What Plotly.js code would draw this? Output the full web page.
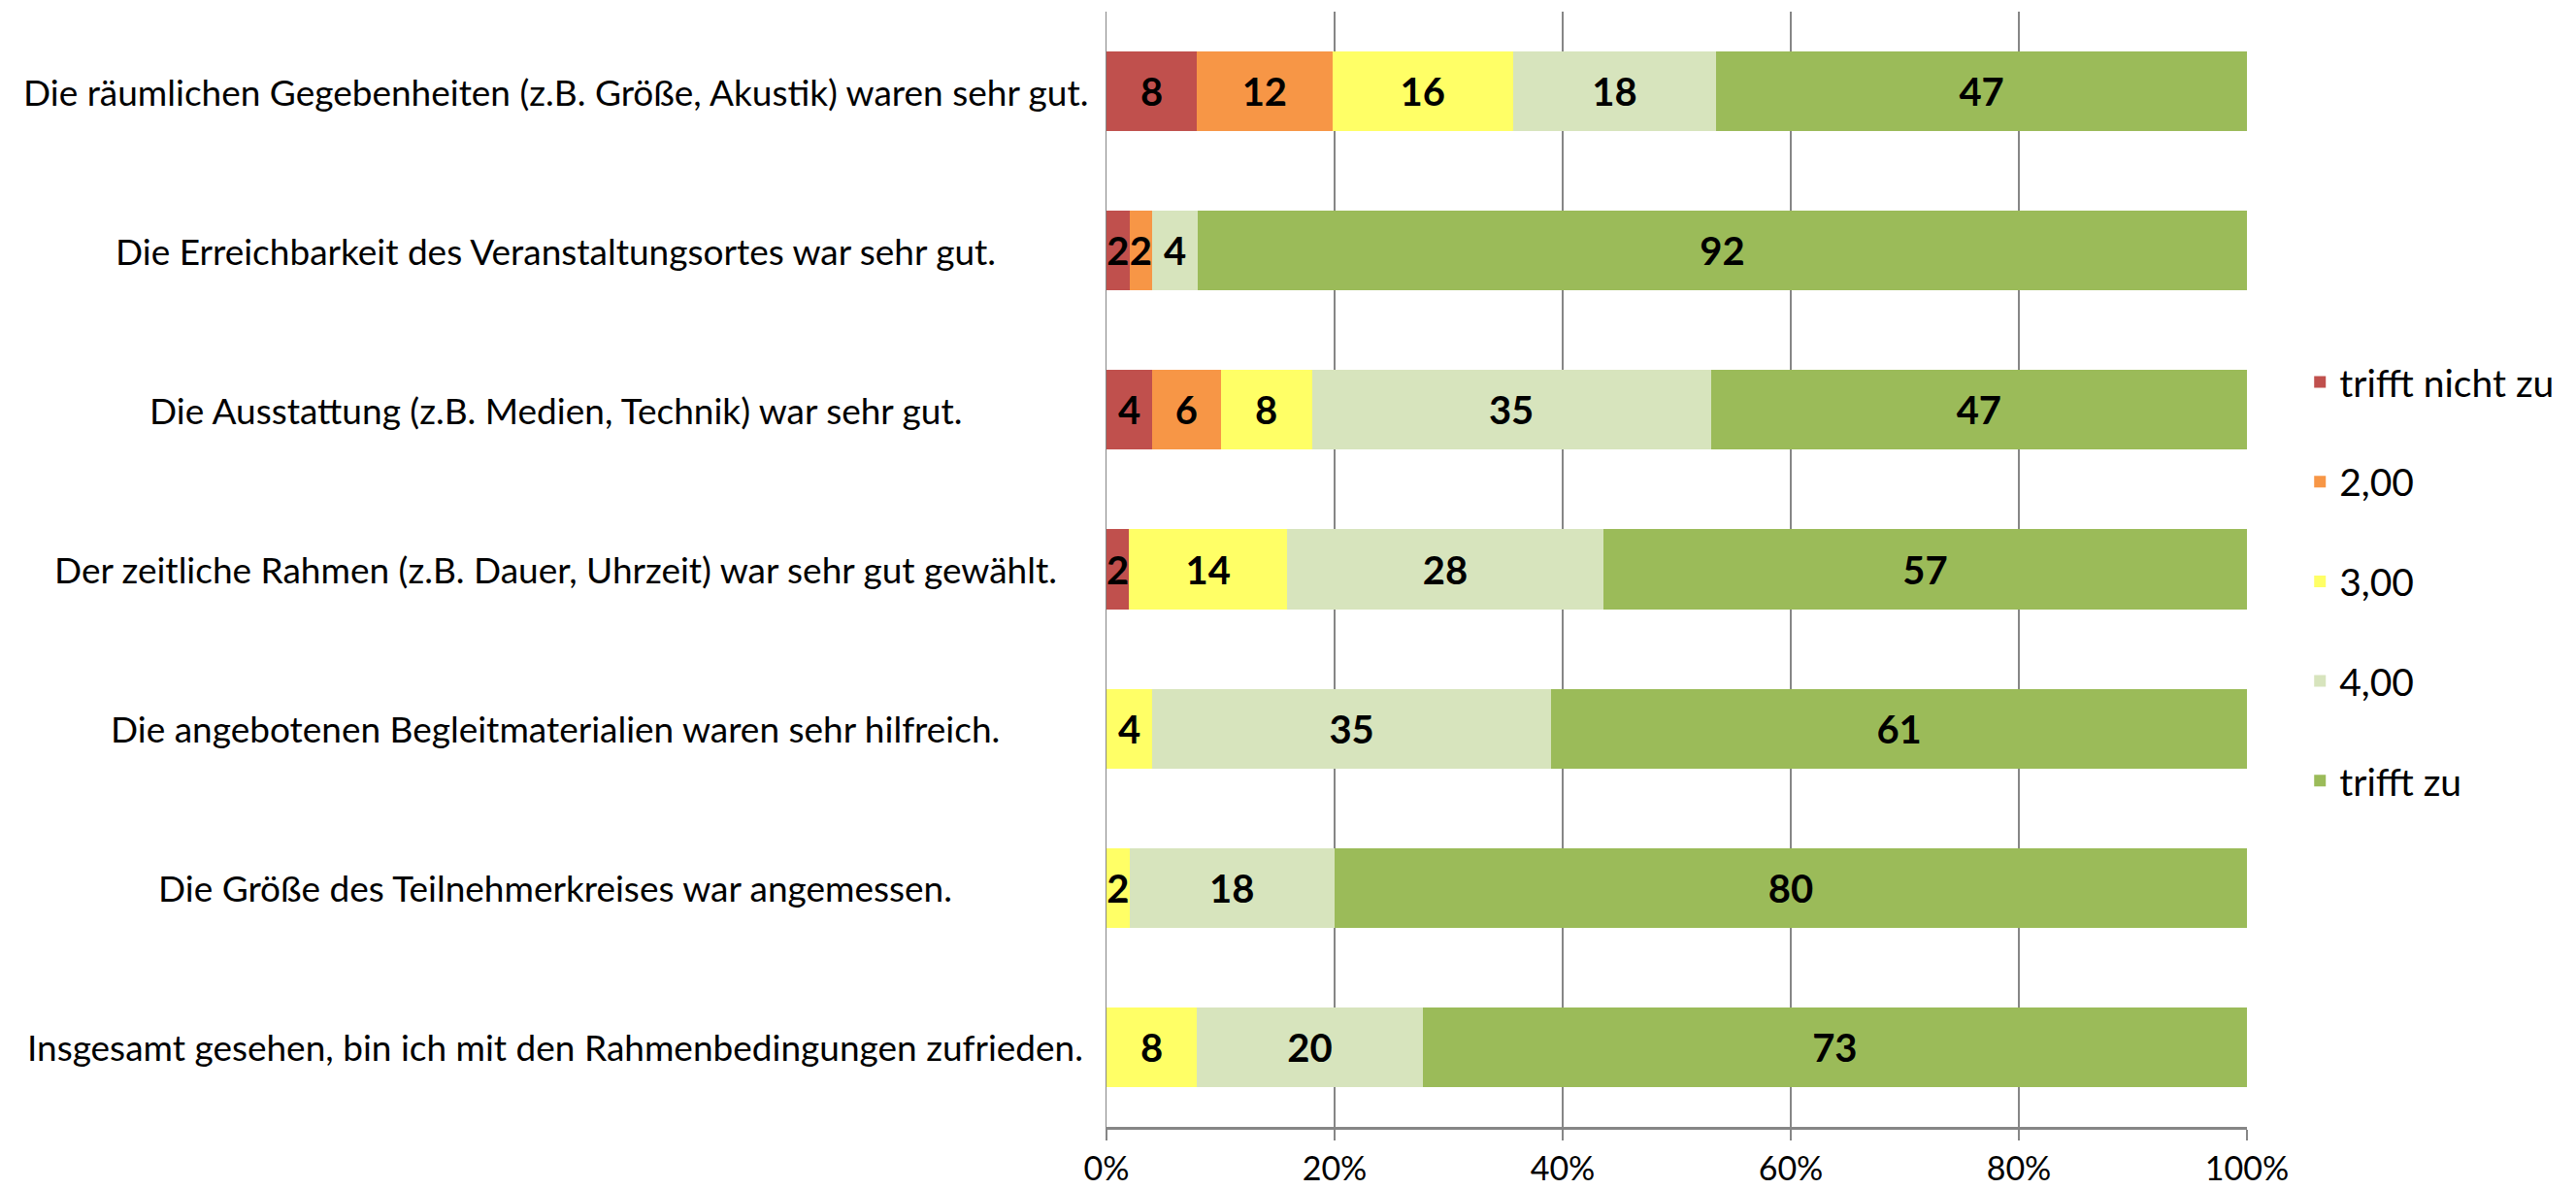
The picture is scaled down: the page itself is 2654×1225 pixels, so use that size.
<!DOCTYPE html>
<html>
<head>
<meta charset="utf-8">
<script src="https://cdn.plot.ly/plotly-3.0.1.min.js"></script>
<style>html,body{margin:0;padding:0;background:#fff;}#chart{width:2654px;height:1225px;}</style>
</head>
<body>
<div id="chart"></div>
<script>
const categories = [
  "Die räumlichen Gegebenheiten (z.B. Größe, Akustik) waren sehr gut.",
  "Die Erreichbarkeit des Veranstaltungsortes war sehr gut.",
  "Die Ausstattung (z.B. Medien, Technik) war sehr gut.",
  "Der zeitliche Rahmen (z.B. Dauer, Uhrzeit) war sehr gut gewählt.",
  "Die angebotenen Begleitmaterialien waren sehr hilfreich.",
  "Die Größe des Teilnehmerkreises war angemessen.",
  "Insgesamt gesehen, bin ich mit den Rahmenbedingungen zufrieden."
];
const seriesNames = ["trifft nicht zu", "2,00", "3,00", "4,00", "trifft zu"];
const trifftNichtZu = [8, 2, 4, 2, null, null, null];
const wert2 = [12, 2, 6, null, null, null, null];
const wert3 = [16, null, 8, 14, 4, 2, 8];
const wert4 = [18, 4, 35, 28, 35, 18, 20];
const trifftZu = [47, 92, 47, 57, 61, 80, 73];
const xTickVals = [0, 20, 40, 60, 80, 100];
const xTickText = ["0%", "20%", "40%", "60%", "80%", "100%"];

const colors = ["#C0504D", "#F79646", "#FFFF66", "#D7E4BD", "#9BBB59"];
const allSeries = [trifftNichtZu, wert2, wert3, wert4, trifftZu];
const FONT = "Lato, 'Open Sans', sans-serif";

const traces = allSeries.map((vals, i) => ({
  type: "bar",
  orientation: "h",
  name: seriesNames[i],
  legendgroup: "g" + i,
  y: categories,
  x: vals,
  marker: {color: colors[i], line: {width: 0}},
  text: vals.map(v => v == null ? "" : String(v)),
  texttemplate: "%{text}",
  textposition: "inside",
  insidetextanchor: "middle",
  constraintext: "none",
  textfont: {family: FONT, size: 40, color: "#000000", weight: "bold"},
  hoverinfo: "name+y+text"
}));

const annotations = categories.map(c => ({
  xref: "paper", yref: "y",
  x: -0.4834, y: c,
  xanchor: "center", yanchor: "middle",
  text: c, showarrow: false,
  font: {family: FONT, size: 37, color: "#000000"}
}));

const layout = {
  width: 2654, height: 1225,
  margin: {l: 1140, r: 339, t: 12, b: 64, pad: 0},
  paper_bgcolor: "#ffffff",
  plot_bgcolor: "#ffffff",
  barmode: "stack",
  barnorm: "percent",
  bargap: 0.5,
  showlegend: true,
  legend: {
    x: 1.047, xanchor: "left",
    y: 0.489, yanchor: "middle",
    traceorder: "grouped",
    tracegroupgap: 49,
    font: {family: FONT, size: 39, color: "#000000"},
    bgcolor: "rgba(0,0,0,0)"
  },
  xaxis: {
    range: [0, 100],
    tickvals: xTickVals,
    ticktext: xTickText,
    showgrid: true,
    gridcolor: "#868686",
    gridwidth: 1.5,
    zeroline: false,
    showline: true,
    linecolor: "#868686",
    linewidth: 3,
    ticks: "outside",
    ticklen: 11,
    tickwidth: 1.5,
    tickcolor: "#868686",
    ticklabelstandoff: 0,
    tickfont: {family: FONT, size: 34, color: "#000000"},
    fixedrange: true
  },
  yaxis: {
    type: "category",
    autorange: "reversed",
    showticklabels: false,
    showgrid: false,
    zeroline: false,
    showline: true,
    linecolor: "#868686",
    linewidth: 1.5,
    ticks: "",
    fixedrange: true
  },
  annotations: annotations,
  font: {family: FONT, color: "#000000"}
};

Plotly.newPlot("chart", traces, layout, {displayModeBar: false, staticPlot: true});
</script>
</body>
</html>
